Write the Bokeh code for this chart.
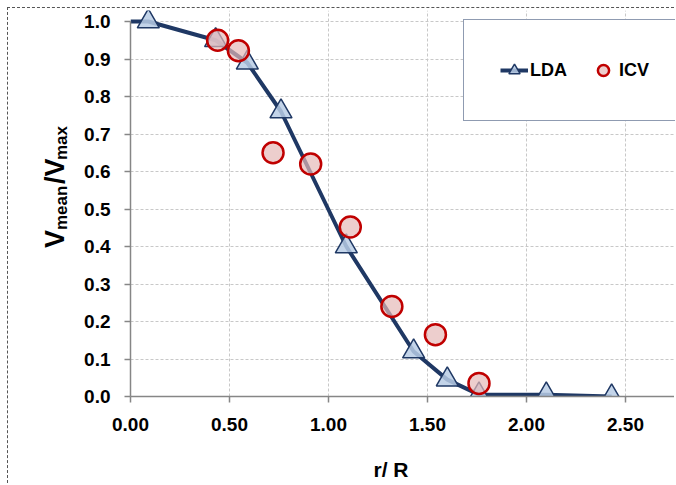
import math
from bokeh.plotting import figure
from bokeh.models import (FixedTicker, NumeralTickFormatter, Label, Legend, LegendItem, Range1d)
from bokeh.embed import file_html
from bokeh.resources import INLINE

# ---- data ----
lda_r = [0.0, 0.09, 0.43, 0.59, 0.76, 1.09, 1.43, 1.60, 1.76, 2.10, 2.43]
lda_v = [1.0, 1.0, 0.95, 0.89, 0.76, 0.40, 0.12, 0.045, 0.005, 0.005, 0.0]
icv_r = [0.44, 0.545, 0.72, 0.91, 1.11, 1.32, 1.54, 1.76]
icv_v = [0.95, 0.922, 0.65, 0.62, 0.452, 0.24, 0.165, 0.035]
x_ticks = [0.0, 0.5, 1.0, 1.5, 2.0, 2.5]
y_ticks = [0.0, 0.1, 0.2, 0.3, 0.4, 0.5, 0.6, 0.7, 0.8, 0.9, 1.0]

FONT = "Liberation Sans"
NAVY = "#1F3864"

FL, FB, FT = 122, 88, 2   # frame borders left / bottom / top
W, H = 667, 476
OFF = 8.5                 # canvas origin in window pixels
BSH = 9                   # observed baseline shift of labels

p = figure(width=W, height=H, output_backend="svg", toolbar_location=None,
           x_range=Range1d(0, (W - FL) / 198.0), y_range=Range1d(0, (H - FB - FT) / 375.0),
           min_border_left=FL, min_border_right=0, min_border_top=FT, min_border_bottom=FB)
p.outline_line_color = None
p.background_fill_color = "white"
p.border_fill_color = "white"
p.styles = {"margin-left": "7px", "margin-top": "7px",
            "border-left": "1.5px dashed #555555", "border-top": "1.5px dashed #555555"}

# axes
for ax in (p.xaxis[0], p.yaxis[0]):
    ax.axis_line_color = "#868686"
    ax.axis_line_width = 1.5
    ax.major_tick_line_color = "#868686"
    ax.major_tick_line_width = 1.5
    ax.major_tick_in = 0
    ax.major_tick_out = 6
    ax.minor_tick_line_color = None
    ax.major_label_text_font = FONT
    ax.major_label_text_font_style = "bold"
    ax.major_label_text_font_size = "19px"
    ax.major_label_text_color = "black"

p.xaxis.ticker = FixedTicker(ticks=x_ticks)
p.yaxis.ticker = FixedTicker(ticks=y_ticks)
p.xaxis.formatter = NumeralTickFormatter(format="0.00")
p.yaxis.formatter = NumeralTickFormatter(format="0.0")
p.yaxis.bounds = (0, 1.0)
p.xaxis.major_label_standoff = 15
p.yaxis.major_label_standoff = 14

for g in (p.xgrid[0], p.ygrid[0]):
    g.grid_line_color = "#C8C8C8"
    g.grid_line_dash = "3 2"
    g.grid_line_width = 1

# glyphs
ln = p.line(lda_r, lda_v, line_color=NAVY, line_width=4)
tri = p.scatter(lda_r[1:], lda_v[1:], marker="triangle", size=22,
                fill_color="#B9CDE5", fill_alpha=0.85, line_color=NAVY, line_width=1.5)
circ = p.scatter(icv_r, icv_v, marker="circle", size=21,
                 fill_color="#E6B9B8", fill_alpha=0.7, line_color="#C00000", line_width=2.5)

legend = Legend(items=[LegendItem(label="LDA", renderers=[ln, tri]),
                       LegendItem(label="ICV", renderers=[circ])],
                orientation="horizontal", location=(333, 275),
                padding=36, spacing=22, glyph_width=28, glyph_height=28,
                label_standoff=2, border_line_color=NAVY, border_line_width=1.5,
                background_fill_color="white", background_fill_alpha=1.0,
                label_text_font=FONT, label_text_font_style="bold",
                label_text_font_size="18px", label_text_color="black")
p.add_layout(legend, "center")

# y-axis title "V_mean / V_max": big letters and subscripts as two rotated labels
y_big = "V\u2003\u2002\u2009/V"
y_sub = "mean\u2003\u2002max"
p.add_layout(Label(x=63 - OFF - BSH, y=247 - OFF, x_units="canvas", y_units="canvas", text=y_big,
                   angle=math.pi / 2, text_align="left", text_baseline="alphabetic",
                   text_font=FONT, text_font_style="bold", text_font_size="27px",
                   text_color="black"), "left")
p.add_layout(Label(x=69 - OFF - BSH, y=229 - OFF, x_units="canvas", y_units="canvas", text=y_sub,
                   angle=math.pi / 2, text_align="left", text_baseline="alphabetic",
                   text_font=FONT, text_font_style="bold", text_font_size="17px",
                   text_color="black"), "left")

# x-axis title
p.add_layout(Label(x=390 - OFF, y=477 - OFF - BSH, x_units="canvas", y_units="canvas", text="r/ R",
                   text_align="center", text_baseline="alphabetic",
                   text_font=FONT, text_font_style="bold", text_font_size="21px",
                   text_color="black"), "below")

open("out.html", "w").write(file_html(p, INLINE))
